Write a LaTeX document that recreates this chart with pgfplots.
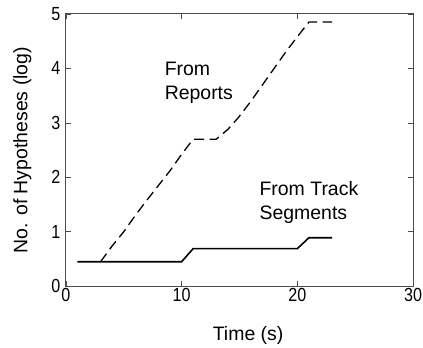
\documentclass[border=0pt]{standalone}
\usepackage{pgfplots}
\pgfplotsset{compat=1.18}
\usepackage{fontspec}
\setmainfont{Liberation Sans}
\newfontfamily\narrowfont[FakeStretch=0.85]{Liberation Sans}
\begin{document}
\begin{tikzpicture}
\begin{axis}[
  scale only axis, width=348pt, height=273pt,
  xmin=0, xmax=30, ymin=0, ymax=5,
  xtick={0,10,20,30}, ytick={0,1,2,3,4,5},
  tick align=inside, tick pos=both,
  major tick length=5pt,
  axis line style={black!70, line width=0.8pt},
  tick style={black!70, line width=0.6pt},
  /pgf/number format/assume math mode=true,
  ticklabel style={font=\narrowfont\fontsize{19}{22}\selectfont, inner sep=1pt},
  label style={font=\fontsize{19.5}{23}\selectfont},
  xlabel={Time (s)},
  ylabel={No. of Hypotheses (log)},
  xlabel style={at={(axis description cs:0.525,-0.18)}, anchor=center},
  ylabel style={at={(axis description cs:-0.125,0.5)}, anchor=center},
  xticklabel style={yshift=-1.3pt},
  yticklabel style={xshift=-4.3pt},
]
\addplot[black, line width=1.6pt] coordinates {
 (1,0.45) (10,0.45) (11,0.69) (20,0.69) (21,0.89) (23,0.89)};
\addplot[black, line width=1.3pt, dash pattern=on 10pt off 5.5pt] coordinates {
 (3,0.45) (4,0.74) (5,1.0) (6,1.3) (7,1.58) (8,1.85) (9,2.12) (10,2.42) (11,2.7)
 (13,2.7) (14,2.88) (15,3.12) (16,3.4) (17,3.7) (18,4.0) (19,4.3) (20,4.58) (21,4.85) (23,4.85)};
\node[anchor=north west, align=left, inner sep=0pt, font=\fontsize{19.5}{24}\selectfont] at (axis cs:8.53,4.12) {From\\Reports};
\node[anchor=north west, align=left, inner sep=0pt, font=\fontsize{19.5}{24}\selectfont] at (axis cs:16.72,1.92) {From Track\\Segments};
\coordinate (bbl) at (rel axis cs:-0.1897,-0.216);
\coordinate (btr) at (rel axis cs:1.026,1.051);
\end{axis}
\path (bbl) rectangle (btr);
\end{tikzpicture}
\end{document}
